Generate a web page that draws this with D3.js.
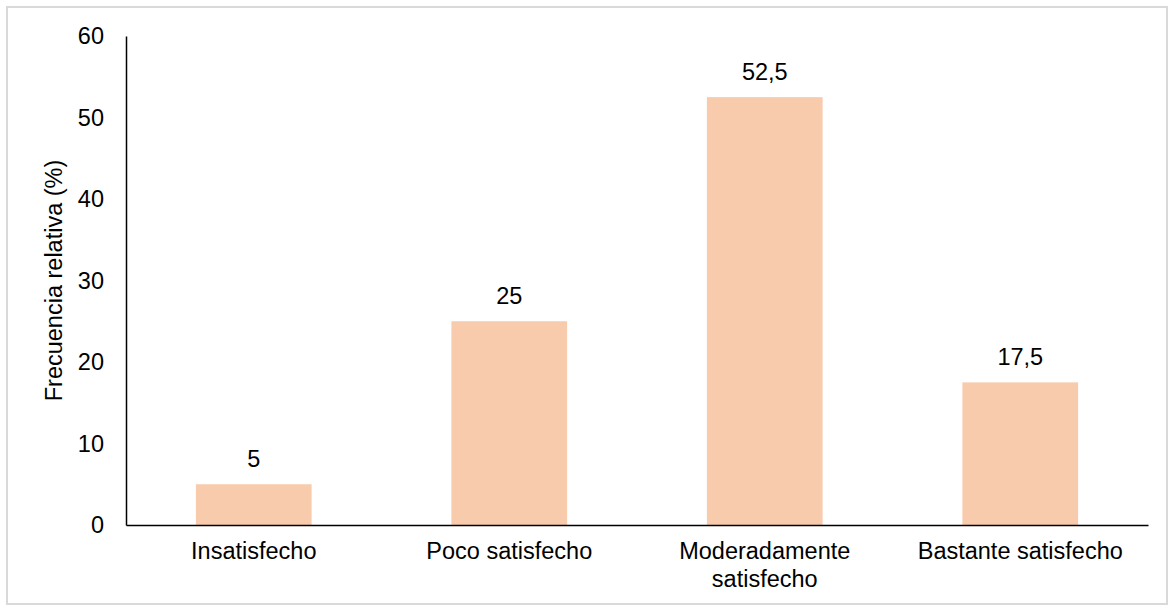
<!DOCTYPE html>
<html>
<head>
<meta charset="utf-8">
<script src="https://cdn.jsdelivr.net/npm/d3@7"></script>
<style>
  html, body { margin: 0; padding: 0; background: #fff; }
  svg { display: block; font-family: "Liberation Sans", Arial, sans-serif; }
</style>
</head>
<body>
<svg id="chart" width="1175" height="612"></svg>
<script>
const categories = ["Insatisfecho", "Poco satisfecho", "Moderadamente satisfecho", "Bastante satisfecho"];
const values = [5, 25, 52.5, 17.5];
const valueLabels = ["5", "25", "52,5", "17,5"];
const yTicks = [0, 10, 20, 30, 40, 50, 60];
const yTitle = "Frecuencia relativa (%)";

const FS = 23.5;
const svg = d3.select("#chart");
const W = 1175, H = 612;
const m = { left: 126, right: 27, top: 36, bottom: 87 };

svg.append("rect").attr("x", 7).attr("y", 7).attr("width", 1160).attr("height", 597)
  .attr("fill", "#fff").attr("stroke", "#d9d9d9").attr("stroke-width", 2);

const x = d3.scaleBand().domain(categories).range([m.left, W - m.right])
  .paddingInner(0.547).paddingOuter(0.2735);
const y = d3.scaleLinear().domain([0, 60]).range([H - m.bottom, m.top]);

svg.selectAll("rect.bar").data(values).join("rect").attr("class", "bar")
  .attr("x", (d, i) => x(categories[i])).attr("width", x.bandwidth())
  .attr("y", d => y(d)).attr("height", d => y(0) - y(d))
  .attr("fill", "#f8cbad");

svg.selectAll("text.vl").data(values).join("text").attr("class", "vl")
  .attr("x", (d, i) => x(categories[i]) + x.bandwidth() / 2)
  .attr("y", d => y(d) - 17)
  .attr("text-anchor", "middle").style("font-size", FS + "px").attr("fill", "#000")
  .text((d, i) => valueLabels[i]);

const yAxis = svg.append("g").attr("transform", `translate(${m.left},0)`)
  .call(d3.axisLeft(y).tickValues(yTicks).tickSize(0).tickPadding(22).tickFormat(d3.format("d")));
yAxis.attr("font-size", null).attr("font-family", null);
yAxis.select(".domain").attr("stroke", "#000").attr("stroke-width", 1.5);
yAxis.selectAll("text").style("font-size", FS + "px").attr("fill", "#000");

const xAxis = svg.append("g").attr("transform", `translate(0,${y(0)})`)
  .call(d3.axisBottom(x).tickSize(0).tickPadding(17));
xAxis.attr("font-size", null).attr("font-family", null);
xAxis.select(".domain").attr("stroke", "#000").attr("stroke-width", 1.5);
xAxis.selectAll("text").style("font-size", FS + "px").attr("fill", "#000")
  .each(function(d) {
    const t = d3.select(this);
    const words = d.split(" ");
    const maxW = 235;
    t.text(null);
    let line = [];
    let tspan = t.append("tspan").attr("x", 0).attr("dy", "0.71em");
    for (const w of words) {
      line.push(w);
      tspan.text(line.join(" "));
      if (tspan.node().getComputedTextLength() > maxW && line.length > 1) {
        line.pop();
        tspan.text(line.join(" "));
        line = [w];
        tspan = t.append("tspan").attr("x", 0).attr("dy", "1.2em").text(w);
      }
    }
  });

svg.append("text")
  .attr("transform", `translate(62,${(y(0) + y(60)) / 2}) rotate(-90)`)
  .attr("text-anchor", "middle").style("font-size", FS + "px").attr("fill", "#000")
  .text(yTitle);
</script>
</body>
</html>
